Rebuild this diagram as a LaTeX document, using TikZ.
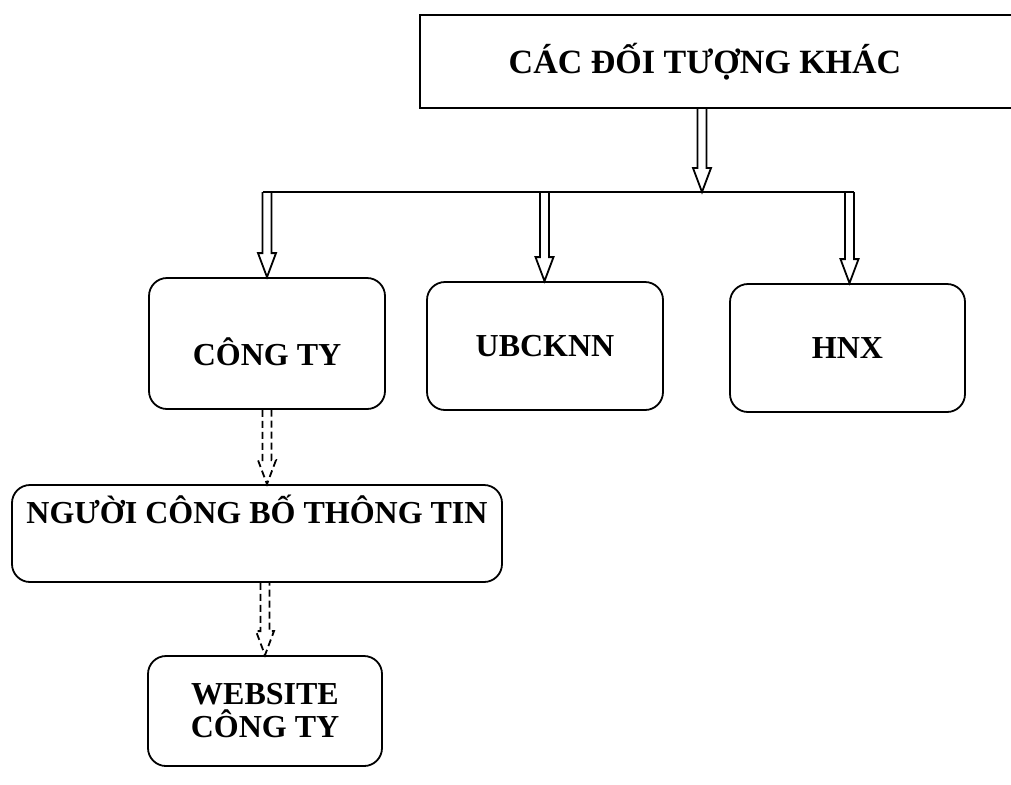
\documentclass[tikz,border=0pt]{standalone}
\usepackage{fontspec}
\setmainfont{Liberation Serif}
\usetikzlibrary{calc}

\tikzset{
  box/.style={draw, line width=0.9pt, rounded corners=9pt, inner sep=0pt, align=center,
    font=\bfseries\fontsize{16}{16.5}\selectfont},
  hollow/.style={line width=0.9pt, line join=miter},
  dashhollow/.style={hollow, dash pattern=on 3.5pt off 2pt},
}
% hollow double arrow: #2 = start coordinate, #3 = target (tip lies below #2)
\newcommand{\hollowarrow}[3][]{%
  \draw[hollow,#1] ($(#2)+(-4.5,0)$) -- ($(#2 |- #3)+(-4.5,-24)$) -- ($(#2 |- #3)+(-9,-24)$)
    -- (#2 |- #3) -- ($(#2 |- #3)+(9,-24)$) -- ($(#2 |- #3)+(4.5,-24)$) -- ($(#2)+(4.5,0)$);}

\begin{document}
\begin{tikzpicture}[x=0.5pt,y=-0.5pt]
 \useasboundingbox (0,0) rectangle (1011,784);
 \clip (0,0) rectangle (1011,784);
 % top frame, open to the right
 \draw[line width=1.4pt] (420,15) rectangle (1040,108);
 \node (top) at (705,62) {\bfseries\fontsize{17}{17}\selectfont CÁC ĐỐI TƯỢNG KHÁC};
 \coordinate (topb) at (702,108);
 \coordinate (s0) at (702,192);
 % second row
 \node[box, minimum width=118pt, text height=43.75pt, text depth=21.75pt] (congty) at (267,343.5) {CÔNG TY};
 \node[box, minimum width=118pt, minimum height=64pt] (ubck) at (545,346) {UBCKNN};
 \node[box, minimum width=117.5pt, minimum height=64pt] (hnx) at (847.5,348) {HNX};
 % left column
 \node[box, minimum width=245pt, text height=19.25pt, text depth=29.25pt] (nguoi) at (257,533.5) {NGƯỜI CÔNG BỐ THÔNG TIN};
 \node[box, minimum width=117pt, minimum height=55pt] (web) at (265,711) {WEBSITE\\CÔNG TY};
 % branch bar
 \coordinate (s1) at (267,192);
 \coordinate (s2) at (544.5,192);
 \coordinate (s3) at (849.5,192);
 \draw[line width=1.3pt] ($(s1)+(-4.5,0)$) -- ($(s3)+(4.5,0)$);
 \hollowarrow{topb}{s0}
 \hollowarrow{s1}{congty.north}
 \hollowarrow{s2}{ubck.north}
 \hollowarrow{s3}{hnx.north}
 % dashed links
 \coordinate (d1) at (congty.south);
 \coordinate (d2) at (web.north |- nguoi.south);
 \hollowarrow[dashhollow]{d1}{nguoi.north}
 \hollowarrow[dashhollow]{d2}{web.north}
\end{tikzpicture}
\end{document}
